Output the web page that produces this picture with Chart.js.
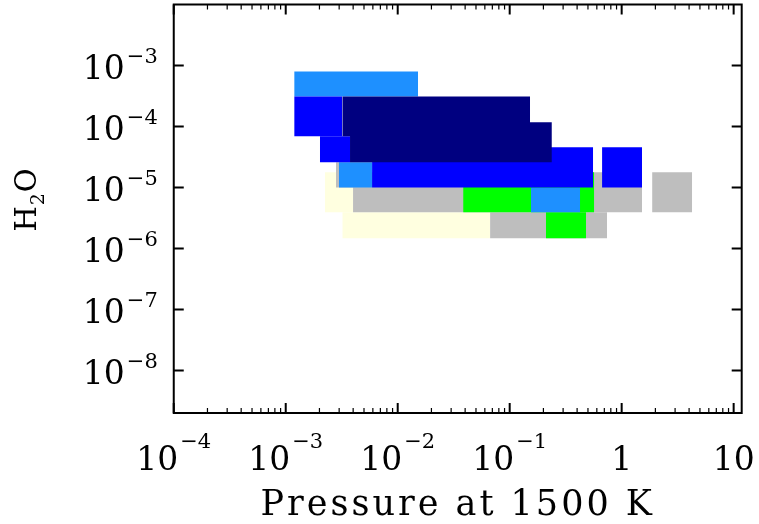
<!DOCTYPE html>
<html>
<head>
<meta charset="utf-8">
<script src="https://cdn.jsdelivr.net/npm/chart.js@4.4.0/dist/chart.umd.min.js"></script>
<style>
  html, body { margin: 0; padding: 0; background: #fff; }
  canvas { display: block; }
</style>
</head>
<body>
<canvas id="boxChart" width="759" height="524"></canvas>
<script>
// axis ranges (log)
const xRange = [1e-4, 11.8];
const yRange = [2e-9, 1e-2];

// major tick values and their labels: [base, exponent]
const xTickValues = [1e-4, 1e-3, 1e-2, 1e-1, 1, 10];
const xTickLabels = [['10', '−4'], ['10', '−3'], ['10', '−2'], ['10', '−1'], ['1', ''], ['10', '']];
const yTickValues = [1e-8, 1e-7, 1e-6, 1e-5, 1e-4, 1e-3];
const yTickLabels = [['10', '−8'], ['10', '−7'], ['10', '−6'], ['10', '−5'], ['10', '−4'], ['10', '−3']];

const xTitle = 'Pressure at 1500 K';

// boxes: [pressure low, pressure high, H2O low, H2O high]
const lightYellowBoxes = [
    [2.24e-3, 4.0e-3, 3.92e-6, 1.77e-5],
    [3.2e-3, 0.0668, 1.47e-6, 3.92e-6]
];
const grayBoxes = [
    [2.81e-3, 5.9e-3, 1.0e-5, 2.58e-5],
    [3.99e-3, 1.52, 3.92e-6, 1.77e-5],
    [0.0668, 0.741, 1.47e-6, 3.92e-6],
    [1.87, 4.26, 3.92e-6, 1.77e-5]
];
const greenBoxes = [
    [0.0384, 0.568, 3.92e-6, 1.77e-5],
    [0.211, 0.481, 1.47e-6, 3.92e-6]
];
const dodgerBlueBoxes = [
    [1.19e-3, 0.0152, 3.1e-4, 8.0e-4],
    [2.99e-3, 5.9e-3, 1.0e-5, 2.58e-5],
    [0.155, 0.426, 3.92e-6, 1.0e-5]
];
const blueBoxes = [
    [1.19e-3, 3.2e-3, 6.88e-5, 3.1e-4],
    [2.02e-3, 3.75e-3, 2.58e-5, 6.88e-5],
    [5.9e-3, 0.556, 1.0e-5, 4.54e-5],
    [0.668, 1.52, 1.0e-5, 4.54e-5]
];
const navyBoxes = [
    [3.2e-3, 0.152, 6.88e-5, 3.1e-4],
    [3.75e-3, 0.238, 2.58e-5, 1.17e-4]
];

// bottom to top
const layers = [
    { boxes: lightYellowBoxes, color: '#FFFFE0' },
    { boxes: grayBoxes, color: '#BEBEBE' },
    { boxes: greenBoxes, color: '#00FF00' },
    { boxes: dodgerBlueBoxes, color: '#1E90FF' },
    { boxes: blueBoxes, color: '#0000FF' },
    { boxes: navyBoxes, color: '#000080' }
];

const datasets = [];
layers.forEach(layer => {
    layer.boxes.forEach(b => {
        datasets.push({
            data: [{ x: b[0], y: b[3] }, { x: b[1], y: b[3] }],
            fill: { value: b[2] },
            backgroundColor: layer.color,
            borderColor: 'rgba(0,0,0,0)',
            borderWidth: 0,
            pointRadius: 0,
            tension: 0
        });
    });
});
// lower order is drawn last (on top)
datasets.forEach((ds, i) => { ds.order = datasets.length - i; });

const serif = '"DejaVu Serif", "Liberation Serif", serif';

// draws the frame, inward ticks and the 10^n labels
const frameAndTicks = {
    id: 'frameAndTicks',
    afterDraw(chart) {
        const { ctx, chartArea: a, scales: { x, y } } = chart;
        ctx.save();
        ctx.strokeStyle = '#000';
        ctx.fillStyle = '#000';
        ctx.lineCap = 'butt';

        // x minor ticks
        ctx.lineWidth = 1.2;
        for (let k = -4; k <= 1; k++) {
            for (let m = 2; m <= 9; m++) {
                const v = m * Math.pow(10, k);
                if (v > xRange[1]) continue;
                const px = x.getPixelForValue(v);
                ctx.beginPath();
                ctx.moveTo(px, a.bottom); ctx.lineTo(px, a.bottom - 5);
                ctx.moveTo(px, a.top); ctx.lineTo(px, a.top + 5);
                ctx.stroke();
            }
        }
        // major ticks
        ctx.lineWidth = 2;
        xTickValues.forEach(v => {
            const px = x.getPixelForValue(v);
            ctx.beginPath();
            ctx.moveTo(px, a.bottom); ctx.lineTo(px, a.bottom - 10);
            ctx.moveTo(px, a.top); ctx.lineTo(px, a.top + 10);
            ctx.stroke();
        });
        yTickValues.forEach(v => {
            const py = y.getPixelForValue(v);
            ctx.beginPath();
            ctx.moveTo(a.left, py); ctx.lineTo(a.left + 10, py);
            ctx.moveTo(a.right, py); ctx.lineTo(a.right - 10, py);
            ctx.stroke();
        });
        ctx.strokeRect(a.left, a.top, a.right - a.left, a.bottom - a.top);

        const baseFont = '33px ' + serif;
        const expFont = '21px ' + serif;
        ctx.textAlign = 'left';
        ctx.textBaseline = 'alphabetic';

        // y labels, right aligned
        yTickValues.forEach((v, i) => {
            const py = y.getPixelForValue(v);
            const [base, exp] = yTickLabels[i];
            ctx.font = expFont;
            const we = ctx.measureText(exp).width;
            ctx.font = baseFont;
            const wb = ctx.measureText(base).width;
            const right = a.left - 16;
            ctx.fillText(base, right - we - wb - 2, py + 14);
            ctx.font = expFont;
            ctx.fillText(exp, right - we, py - 2);
        });

        // x labels, centred
        xTickValues.forEach((v, i) => {
            const px = x.getPixelForValue(v);
            const [base, exp] = xTickLabels[i];
            ctx.font = expFont;
            const we = exp ? ctx.measureText(exp).width + 2 : 0;
            ctx.font = baseFont;
            const wb = ctx.measureText(base).width;
            const left = px - (wb + we) / 2;
            ctx.fillText(base, left, a.bottom + 57);
            if (exp) {
                ctx.font = expFont;
                ctx.fillText(exp, left + wb + 2, a.bottom + 35);
            }
        });

        // x title
        ctx.font = '35px ' + serif;
        ctx.letterSpacing = '3px';
        ctx.textAlign = 'center';
        ctx.fillText(xTitle, (a.left + a.right) / 2, 515);
        ctx.letterSpacing = '0px';

        // y title H2O, rotated
        ctx.translate(36, 200);
        ctx.rotate(-Math.PI / 2);
        ctx.textAlign = 'left';
        const big = '29px ' + serif, small = '19px ' + serif;
        ctx.font = big;
        const wH = ctx.measureText('H').width;
        const wO = ctx.measureText('O').width;
        ctx.font = small;
        const w2 = ctx.measureText('2').width;
        const total = wH + w2 + wO + 2;
        let cx = -total / 2;
        ctx.font = big;
        ctx.fillText('H', cx, 0);
        cx += wH + 1;
        ctx.font = small;
        ctx.fillText('2', cx, 8);
        cx += w2 + 1;
        ctx.font = big;
        ctx.fillText('O', cx, 0);
        ctx.restore();
    }
};

new Chart(document.getElementById('boxChart'), {
    type: 'line',
    data: { datasets },
    options: {
        responsive: false,
        animation: false,
        events: [],
        layout: { padding: { left: 173.75, top: 4.5, right: 17.3, bottom: 111 } },
        plugins: {
            legend: { display: false },
            tooltip: { enabled: false },
            filler: { propagate: false }
        },
        scales: {
            x: { type: 'logarithmic', min: xRange[0], max: xRange[1], display: false },
            y: { type: 'logarithmic', min: yRange[0], max: yRange[1], display: false }
        }
    },
    plugins: [frameAndTicks]
});
</script>
</body>
</html>
